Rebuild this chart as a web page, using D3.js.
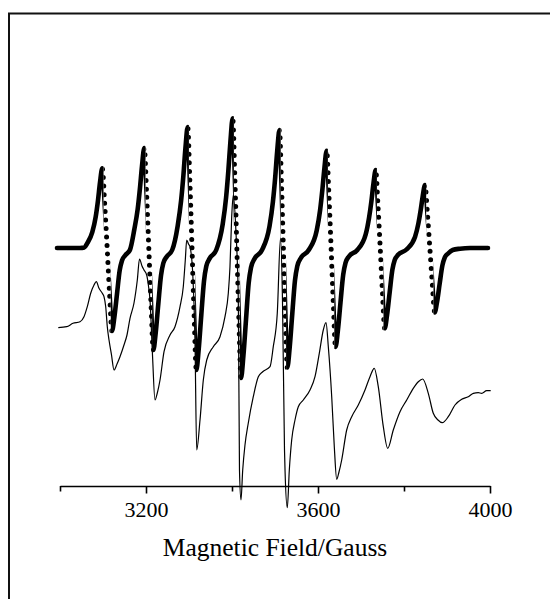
<!DOCTYPE html>
<html>
<head>
<meta charset="utf-8">
<script src="https://cdn.jsdelivr.net/npm/d3@7"></script>
<style>
  html, body { margin: 0; padding: 0; background: #fff; }
  svg { display: block; }
  text { font-family: "Liberation Serif", "Times New Roman", serif; fill: #000; }
</style>
</head>
<body>
<div id="chart"></div>
<script>
// simulated spectrum (dots), field in gauss, signal relative to its own baseline
const simField = [2993.0, 3046.5, 3056.5, 3063.5, 3075.1, 3083.0, 3088.4, 3093.0, 3098.4,
  3103.9, 3109.7, 3115.3, 3120.9, 3126.5, 3132.6, 3138.8, 3144.2, 3152.1, 3162.6,
  3172.8, 3180.7, 3186.0, 3190.7, 3196.0, 3201.3, 3206.5, 3211.7, 3217.0,
  3222.6, 3228.6, 3234.9, 3240.2, 3248.1, 3260.9,
  3273.7, 3281.6, 3287.0, 3291.6, 3297.0, 3302.0, 3307.0, 3311.9, 3317.0,
  3322.6, 3328.6, 3334.9, 3340.2, 3348.1, 3363.3,
  3378.4, 3386.3, 3391.6, 3396.3, 3401.6, 3406.5, 3411.3, 3416.0, 3420.9,
  3426.5, 3432.6, 3438.8, 3444.2, 3452.1, 3469.8,
  3487.2, 3495.1, 3500.5, 3505.1, 3510.5, 3515.0, 3519.5, 3524.1, 3528.6,
  3534.2, 3540.2, 3546.5, 3551.9, 3559.8, 3578.4,
  3597.0, 3604.9, 3610.2, 3614.9, 3620.2, 3625.3, 3630.5, 3635.6, 3640.7,
  3646.3, 3652.3, 3658.6, 3664.0, 3671.9, 3691.4,
  3710.9, 3718.8, 3724.2, 3728.8, 3734.2, 3739.4, 3744.7, 3749.9, 3755.1,
  3760.7, 3766.7, 3773.0, 3778.4, 3786.3, 3805.8,
  3825.6, 3833.5, 3838.8, 3843.5, 3848.8, 3854.4, 3860.1, 3865.8, 3871.4,
  3877.0, 3883.0, 3889.3, 3894.7, 3902.6, 3913.3, 3930.2, 3953.5, 3995.3];
const simSignal = [0, 0, 0.5, 4.8, 15.9, 31.1, 47.8, 65.4, 79.7,
  43.8, 0, -45.7, -83, -68.9, -45.7, -22.4, -12.5, -7.1, -2,
  18.5, 39, 60, 82, 100, 55, 0, -56, -102,
  -84.7, -56, -27.5, -15.3, -8.7, -2,
  22.2, 47.2, 72.6, 99.2, 121, 66.6, 0, -67, -122,
  -101, -67, -33, -18.3, -10.4, -2,
  23.9, 50.6, 77.8, 106.4, 129.7, 71.3, 0, -71.5, -130,
  -107.9, -71.5, -35.1, -19.5, -11, -2,
  21.6, 46, 70.8, 96.8, 118, 64.9, 0, -65.7, -119.5,
  -99.2, -65.7, -32.3, -17.9, -10.2, -2,
  17.5, 37.9, 58.4, 79.8, 97.3, 53.5, 0, -54.5, -99,
  -82.2, -54.5, -26.7, -14.9, -8.4, -2,
  13.6, 30.4, 46.8, 64, 78, 42.9, 0, -44.2, -80.3,
  -66.6, -44.2, -21.7, -12, -6.8, -1.5,
  11.1, 24.6, 37.8, 51.7, 63, 34.7, 0, -35.5, -64.5,
  -53.5, -35.5, -17.4, -9.7, -5.5, -2, -0.7, 0, 0];
const simOffset = 238;

// experimental spectrum (thin line)
const expField = [2996.0, 3015.6, 3030.2, 3046.5, 3055.8, 3063.5, 3071.4, 3079.1, 3084.4,
  3090.7, 3098.4, 3102.3, 3106.3, 3110.0, 3114.0, 3119.8, 3125.6, 3132.6, 3139.5,
  3148.8, 3155.8, 3162.8, 3172.1, 3179.8, 3184.9, 3190.7, 3195.3, 3201.6, 3205.8,
  3209.3, 3215.1, 3220.9, 3226.3, 3232.6, 3241.9, 3255.8, 3267.4, 3279.1, 3286.7,
  3291.4, 3294.7, 3298.8, 3302.3, 3308.6, 3313.9, 3317.9, 3325.6, 3333.3, 3341.2,
  3356.5, 3372.1, 3383.7, 3391.4, 3395.3, 3399.3, 3403.0, 3409.3, 3414.7, 3417.4,
  3420.9, 3424.9, 3430.2, 3437.9, 3449.5, 3461.2, 3471.4, 3488.4, 3496.0, 3505.3,
  3512.8, 3517.4, 3522.1, 3523.3, 3528.6, 3533.3, 3538.8, 3546.5, 3554.2, 3565.8,
  3581.4, 3593.0, 3603.0, 3612.3, 3618.6, 3624.0, 3631.9, 3637.9, 3643.5, 3648.8,
  3655.1, 3666.7, 3678.4, 3693.7, 3709.3, 3720.9, 3730.9, 3740.2, 3751.9, 3762.1,
  3775.1, 3790.7, 3806.3, 3821.6, 3833.3, 3843.5, 3856.5, 3868.1, 3879.1, 3889.1,
  3903.0, 3918.6, 3934.2, 3949.5, 3961.2, 3972.8, 3980.7, 3992.3, 4001.6];
const expSignal = [158.3, 159.3, 162.7, 164.3, 169.3, 179.3, 192.7, 201, 204.3,
  197.7, 192.7, 189.3, 179.3, 159.3, 146, 131, 116, 122, 129.3,
  141, 151, 167.7, 183, 206, 227, 220, 216, 211, 200,
  186, 131, 86, 93, 106, 134.3, 151, 159.3, 179.3, 199.3,
  226, 246, 242, 239.3, 213, 146, 36, 66, 106, 126,
  139.3, 149.3, 169.3, 192.7, 219.3, 269.3, 291, 253, 186, 16,
  -14, 16, 41, 63, 89.3, 109.3, 114.3, 119.3, 139.3, 172.7,
  248, 186, 36, 16, -21.7, 16, 46, 66, 79.3, 86,
  96, 109.3, 132.7, 156, 163.3, 139.3, 89.3, 39.3, 6.7, 14,
  26, 56, 69.3, 81, 96, 109.3, 117.7, 99.3, 59.3, 37.7,
  56, 74.3, 86, 97.7, 104.3, 107, 92.7, 72.7, 66, 63.3,
  69.3, 81, 86.7, 89.3, 92.7, 93.3, 92.7, 95.3, 95.3];

const fieldTicks = [3000, 3200, 3400, 3600, 3800, 4000];
const fieldLabels = [3200, 3600, 4000];
const xTitle = "Magnetic Field/Gauss";

const W = 550, H = 599;
const svg = d3.select("#chart").append("svg")
  .attr("width", W).attr("height", H);

svg.append("rect").attr("width", W).attr("height", H).attr("fill", "#fff");

// frame (left and top edges visible)
svg.append("path")
  .attr("d", "M9,599V13.5H550")
  .attr("fill", "none")
  .attr("stroke", "#111")
  .attr("stroke-width", 2);

const x = d3.scaleLinear().domain([3000, 4000]).range([60, 490]);
const y = d3.scaleLinear().domain([0, 400]).range([486, 86]);

// axis
const axis = svg.append("g")
  .attr("transform", "translate(0,486)")
  .call(d3.axisBottom(x)
    .tickValues(fieldTicks)
    .tickSizeOuter(0)
    .tickFormat(d => fieldLabels.includes(d) ? d : ""));
axis.select(".domain").attr("stroke", "#000").attr("stroke-width", 1.6);
axis.selectAll(".tick line")
  .attr("stroke", "#000").attr("stroke-width", 1.6)
  .attr("y2", d => fieldLabels.includes(d) ? 7.5 : 5.5);
axis.selectAll(".tick text")
  .attr("y", 31).attr("dy", 0)
  .style("font-family", '"Liberation Serif", "Times New Roman", serif')
  .style("font-size", "22px")
  .attr("fill", "#000");

svg.append("text")
  .attr("x", 275).attr("y", 556)
  .attr("text-anchor", "middle")
  .style("font-size", "25.5px")
  .text(xTitle);

// experimental trace
const expPts = expField.map((f, i) => [f, expSignal[i]]);
svg.append("path")
  .datum(expPts)
  .attr("fill", "none")
  .attr("stroke", "#000")
  .attr("stroke-width", 1.2)
  .attr("d", d3.line().x(d => x(d[0])).y(d => y(d[1])).curve(d3.curveMonotoneX));

// simulated trace: one smooth curve, the steep peak->trough drops shown as dots
const simPts = simField.map((f, i) => [f, simSignal[i] + simOffset]);
const peaks = [], troughs = [];
for (let i = 1; i < simSignal.length - 1; i++) {
  const a = simSignal[i - 1], b = simSignal[i], c = simSignal[i + 1];
  if (b > a && b > c && b > 20) peaks.push(i);
  if (b < a && b < c && b < -20) troughs.push(i);
}
const drops = peaks.map((p, k) => [x(simField[p]) + 1.2, x(simField[troughs[k]]) - 1.2]);
const keep = [];
let left = 0;
drops.forEach(([a, b]) => { keep.push([left, a]); left = b; });
keep.push([left, W]);

const defs = svg.append("defs");
const clipDots = defs.append("clipPath").attr("id", "clip-dots");
drops.forEach(([a, b]) => clipDots.append("rect").attr("x", a).attr("y", 0).attr("width", b - a).attr("height", H));
const clipSolid = defs.append("clipPath").attr("id", "clip-solid");
keep.forEach(([a, b]) => clipSolid.append("rect").attr("x", a).attr("y", 0).attr("width", b - a).attr("height", H));

const simLine = d3.line().x(d => x(d[0])).y(d => y(d[1])).curve(d3.curveMonotoneX);
svg.append("path")
  .datum(simPts)
  .attr("clip-path", "url(#clip-solid)")
  .attr("fill", "none")
  .attr("stroke", "#000")
  .attr("stroke-width", 4.6)
  .attr("stroke-linecap", "round")
  .attr("stroke-linejoin", "round")
  .attr("d", simLine);
svg.append("path")
  .datum(simPts)
  .attr("clip-path", "url(#clip-dots)")
  .attr("fill", "none")
  .attr("stroke", "#000")
  .attr("stroke-width", 5)
  .attr("stroke-linecap", "round")
  .attr("stroke-dasharray", "0 8.5")
  .attr("d", simLine);
</script>
</body>
</html>
